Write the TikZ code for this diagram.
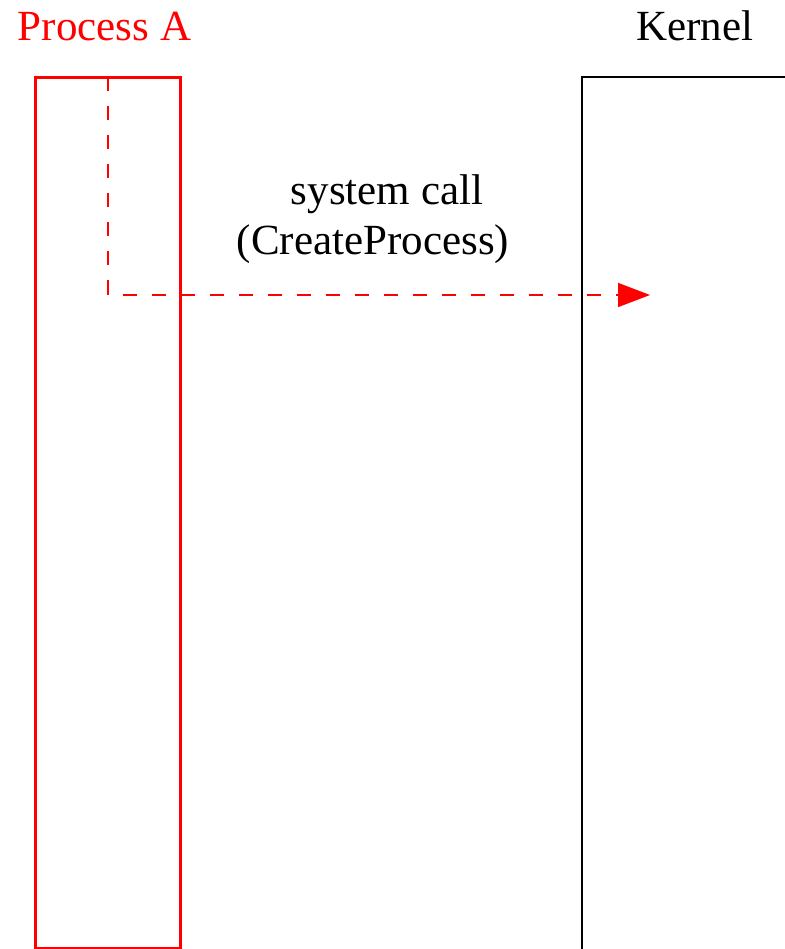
\documentclass[tikz,border=0pt]{standalone}
\usepackage{fontspec}
\setmainfont{Liberation Serif}
\usetikzlibrary{arrows.meta}
\begin{document}
\begin{tikzpicture}[x=1pt,y=-1pt,
  lbl/.style={inner sep=0pt,anchor=base,font=\fontsize{43}{50}\selectfont},
  procbox/.style={draw=red,line width=3pt},
  kernbox/.style={draw=black,line width=2pt},
  callline/.style={draw=red,line width=1.6pt,dash pattern=on 14pt off 15pt,-{Triangle[length=32pt,width=24pt]}}]
\useasboundingbox (0,0) rectangle (784,949);
\node[lbl,text=red] (pa) at (104.5,41) {Process A};
\node[lbl] (kn) at (695,41) {Kernel};
\draw[procbox] (35,948) -- (35,77.5) -- (180,77.5) -- (180,948) -- cycle;
\draw[kernbox] (582,960) -- (582,77) -- (800,77);
\coordinate (start) at (108,77.5);
\coordinate (corner) at (108,295);
\coordinate (tip) at (650,295);
\draw[callline] (start) -- (corner) -- (tip);
\node[lbl] (l1) at (387,205) {system call};
\node[lbl] (l2) at (373,255) {(CreateProcess)};
\end{tikzpicture}
\end{document}
